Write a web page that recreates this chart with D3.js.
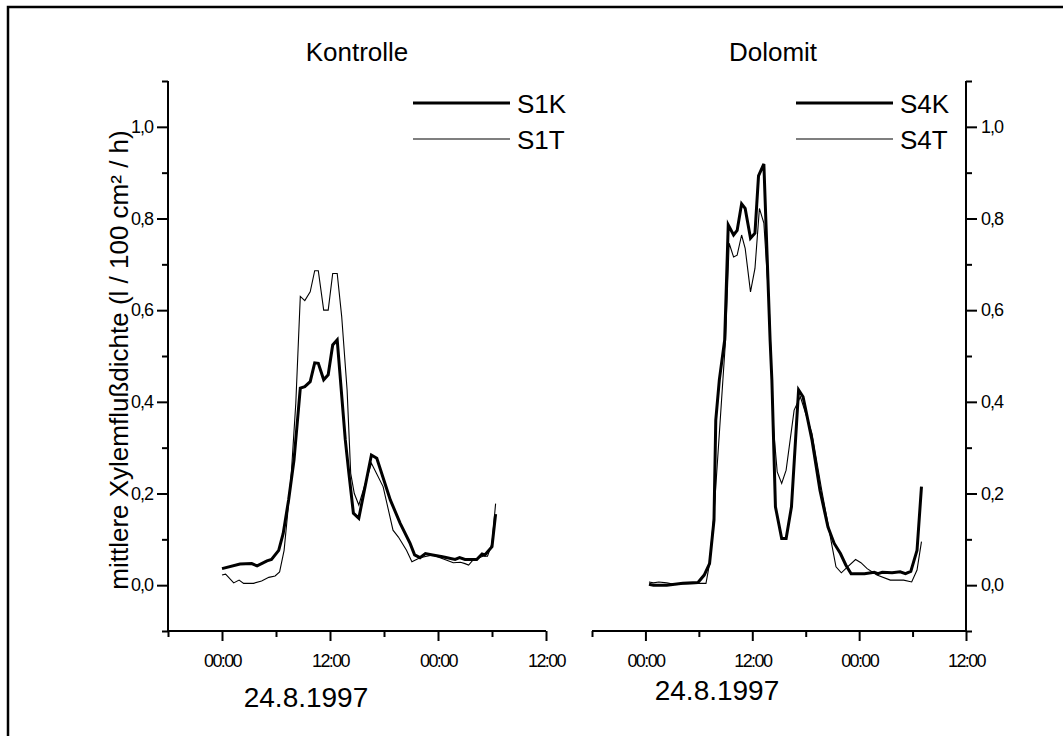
<!DOCTYPE html>
<html>
<head>
<meta charset="utf-8">
<script src="https://cdn.jsdelivr.net/npm/d3@7"></script>
<style>
  html, body { margin: 0; padding: 0; background: #fff; }
  svg { display: block; font-family: "Liberation Sans", Arial, sans-serif; }
</style>
</head>
<body>
<svg id="chart" width="1063" height="736"></svg>
<script>
// Sap flux density, hours after 00:00 on 24.8.1997
const s1kTime = [0, 2, 3.3, 3.9, 5, 5.5, 6.3, 6.8, 7.4, 8, 8.7, 9.2, 9.8, 10.3, 10.7, 11.3, 11.8, 12.3, 12.8, 13.7, 14.1, 14.6, 15.2, 16.6, 17.2, 18.7, 19.8, 20.9, 21.4, 22, 22.6, 23.4, 24.5, 25.9, 26.4, 27, 28.3, 28.9, 29.2, 30, 30.4];
const s1kVal  = [0.036, 0.046, 0.047, 0.042, 0.053, 0.056, 0.076, 0.113, 0.186, 0.273, 0.43, 0.433, 0.444, 0.485, 0.484, 0.448, 0.459, 0.524, 0.535, 0.317, 0.244, 0.157, 0.146, 0.284, 0.277, 0.186, 0.135, 0.091, 0.066, 0.06, 0.069, 0.066, 0.062, 0.056, 0.06, 0.056, 0.056, 0.068, 0.066, 0.084, 0.155];

const s1tTime = [0, 0.4, 1.3, 1.9, 2.4, 3.5, 4.4, 5.2, 5.9, 6.4, 6.9, 7.3, 7.7, 8.2, 8.7, 9.2, 9.8, 10.3, 10.7, 11.3, 11.8, 12.3, 12.8, 13.3, 13.9, 14.3, 14.7, 15.2, 16.6, 17.9, 19, 19.6, 20.5, 21.1, 22, 23.4, 24.9, 25.7, 26.5, 27, 27.4, 27.9, 29, 29.5, 30, 30.4];
const s1tVal  = [0.022, 0.024, 0.005, 0.011, 0.004, 0.004, 0.009, 0.017, 0.02, 0.029, 0.076, 0.157, 0.244, 0.397, 0.63, 0.621, 0.64, 0.686, 0.686, 0.6, 0.6, 0.68, 0.68, 0.586, 0.426, 0.244, 0.2, 0.175, 0.266, 0.215, 0.12, 0.105, 0.076, 0.051, 0.06, 0.066, 0.055, 0.049, 0.05, 0.047, 0.044, 0.055, 0.063, 0.063, 0.091, 0.178];

const s4kTime = [0.4, 0.9, 2.4, 4.2, 5.9, 6.6, 7.2, 7.7, 7.9, 8.3, 8.9, 9.3, 9.9, 10.3, 10.8, 11.2, 11.8, 12.3, 12.7, 13.3, 14.0, 14.2, 14.6, 15.3, 15.8, 16.4, 17.2, 17.7, 18.7, 19.6, 20.5, 21.2, 21.9, 22.5, 23.1, 24.6, 25.7, 26.1, 26.6, 27.7, 28.6, 29.2, 29.8, 30.5, 31];
const s4kVal  = [0.002, 0.0, 0.0, 0.004, 0.006, 0.022, 0.047, 0.142, 0.36, 0.448, 0.535, 0.786, 0.764, 0.774, 0.832, 0.822, 0.757, 0.768, 0.893, 0.919, 0.535, 0.448, 0.171, 0.102, 0.102, 0.171, 0.426, 0.411, 0.317, 0.207, 0.127, 0.091, 0.069, 0.044, 0.025, 0.025, 0.028, 0.025, 0.028, 0.027, 0.029, 0.025, 0.03, 0.076, 0.215];

const s4tTime = [0.4, 0.9, 1.5, 2.4, 3.2, 5.9, 6.8, 7.2, 7.7, 8.3, 8.7, 9.0, 9.4, 9.9, 10.3, 10.8, 11.2, 11.8, 12.3, 12.8, 13.3, 13.9, 14.4, 14.8, 15.3, 15.8, 16.7, 17.4, 18.7, 19.8, 20.9, 21.4, 22, 22.7, 23.6, 24.2, 24.9, 26, 27.5, 29, 29.9, 30.5, 31];
const s4tVal  = [0.007, 0.005, 0.007, 0.005, 0.002, 0.004, 0.004, 0.047, 0.157, 0.331, 0.448, 0.535, 0.746, 0.716, 0.72, 0.764, 0.735, 0.64, 0.691, 0.822, 0.79, 0.608, 0.338, 0.247, 0.222, 0.251, 0.382, 0.411, 0.331, 0.207, 0.091, 0.04, 0.027, 0.04, 0.056, 0.049, 0.036, 0.022, 0.011, 0.011, 0.007, 0.033, 0.095];

const panelTitles = ["Kontrolle", "Dolomit"];
const seriesNames = [["S1K", "S1T"], ["S4K", "S4T"]];
const dateLabel = "24.8.1997";
const yTitle = "mittlere Xylemflußdichte (l / 100 cm² / h)";
const xMajorTicks = [0, 12, 24, 36];
const xMinorTicks = [-6, 6, 18, 30];
const xTickLabels = ["00:00", "12:00", "00:00", "12:00"];
const yMajorTicks = [0, 0.2, 0.4, 0.6, 0.8, 1.0];
const yMinorTicks = [-0.1, 0.1, 0.3, 0.5, 0.7, 0.9, 1.1];

const svg = d3.select("#chart");

// frame (top and left edges)
svg.append("path")
  .attr("d", "M8,736 L8,7 L1063,7")
  .attr("fill", "none").attr("stroke", "#000").attr("stroke-width", 2.5);

const y = d3.scaleLinear().domain([-0.1, 1.1]).range([631, 81]);
const yFmt = v => d3.format(".1f")(v).replace(".", ",");

const panels = [
  { x0: 168, x1: 546, side: "left",  series: [[s1kTime, s1kVal], [s1tTime, s1tVal]],
    legX: 413, titleX: 357, dateX: 306, dateY: 707 },
  { x0: 592, x1: 966, side: "right", series: [[s4kTime, s4kVal], [s4tTime, s4tVal]],
    legX: 796, titleX: 773, dateX: 717, dateY: 700 }
];

panels.forEach((p, i) => {
  const x = d3.scaleLinear().domain([-6, 36]).range([p.x0, p.x1]);
  const g = svg.append("g");

  // x axis: minor and major ticks
  const xAxisY = y(-0.1);
  g.append("g").attr("transform", `translate(0,${xAxisY})`)
    .call(d3.axisBottom(x).tickValues(xMinorTicks).tickSize(6).tickSizeOuter(0).tickFormat(""))
    .call(a => a.select(".domain").remove());
  const xa = g.append("g").attr("transform", `translate(0,${xAxisY})`)
    .call(d3.axisBottom(x).tickValues(xMajorTicks).tickSize(10).tickSizeOuter(0)
      .tickFormat((d, k) => xTickLabels[k]).tickPadding(13));
  xa.select(".domain").attr("d", `M${p.x0},0H${p.x1}`);
  xa.selectAll("text").attr("font-size", 18).attr("letter-spacing", -1.6)
    .attr("font-family", "Liberation Sans, Arial, sans-serif");

  // y axis
  const axisX = p.side === "left" ? p.x0 : p.x1;
  const mk = p.side === "left" ? d3.axisLeft : d3.axisRight;
  g.append("g").attr("transform", `translate(${axisX},0)`)
    .call(mk(y).tickValues(yMinorTicks).tickSize(6).tickSizeOuter(0).tickFormat(""))
    .call(a => a.select(".domain").remove());
  const ya = g.append("g").attr("transform", `translate(${axisX},0)`)
    .call(mk(y).tickValues(yMajorTicks).tickSize(11).tickSizeOuter(0).tickFormat(yFmt).tickPadding(4));
  ya.select(".domain").attr("d", `M0,${y(1.1)}V${y(-0.1)}`);
  ya.selectAll("text").attr("font-size", 18).attr("letter-spacing", -1)
    .attr("font-family", "Liberation Sans, Arial, sans-serif");

  g.selectAll(".domain, .tick line").attr("stroke", "#000").attr("stroke-width", 2);

  // series lines
  const line = d3.line().x(d => x(d[0])).y(d => y(d[1]));
  p.series.forEach((s, k) => {
    const pts = s[0].map((t, j) => [t, s[1][j]]);
    g.append("path").datum(pts)
      .attr("d", line)
      .attr("fill", "none")
      .attr("stroke", "#000")
      .attr("stroke-width", k === 0 ? 3 : 1.1)
      .attr("stroke-linejoin", "miter");
  });

  // legend
  seriesNames[i].forEach((name, k) => {
    const ly = 103 + k * 36;
    g.append("line").attr("x1", p.legX).attr("x2", p.legX + 97)
      .attr("y1", ly).attr("y2", ly)
      .attr("stroke", "#000").attr("stroke-width", k === 0 ? 3 : 1.1);
    g.append("text").attr("x", p.legX + 104).attr("y", ly + 9.5)
      .attr("font-size", 26).text(name);
  });

  // panel title
  g.append("text").attr("x", p.titleX).attr("y", 61)
    .attr("text-anchor", "middle").attr("font-size", 26).text(panelTitles[i]);

  // date label
  g.append("text").attr("x", p.dateX).attr("y", p.dateY)
    .attr("text-anchor", "middle").attr("font-size", 28).text(dateLabel);
});

// y axis title
svg.append("text")
  .attr("transform", "translate(128,360) rotate(-90)")
  .attr("text-anchor", "middle")
  .attr("font-size", 26)
  .text(yTitle);
</script>
</body>
</html>
